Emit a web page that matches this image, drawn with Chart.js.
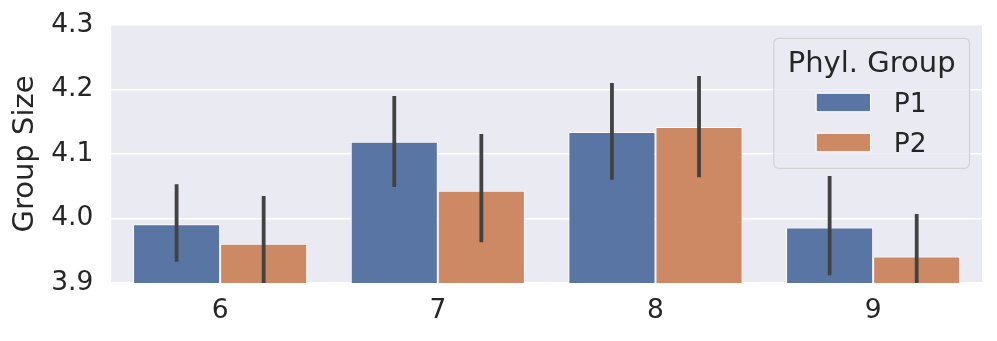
<!DOCTYPE html>
<html>
<head>
<meta charset="utf-8">
<script src="https://cdn.jsdelivr.net/npm/chart.js@4.4.1/dist/chart.umd.min.js"></script>
<style>
  html, body { margin: 0; padding: 0; background: #ffffff; }
  #wrap { width: 997px; height: 341px; position: relative; }
</style>
</head>
<body>
<div id="wrap"><canvas id="c"></canvas></div>
<script>
const categories = ['6', '7', '8', '9'];
const seriesNames = ['P1', 'P2'];
const p1Values = [3.991, 4.119, 4.134, 3.986];
const p2Values = [3.961, 4.043, 4.142, 3.941];
const p1Low = [3.933, 4.049, 4.060, 3.912];
const p1High = [4.053, 4.190, 4.210, 4.066];
const p2Low = [3.887, 3.963, 4.064, 3.875];
const p2High = [4.035, 4.131, 4.221, 4.007];
const yTicks = [3.9, 4.0, 4.1, 4.2, 4.3];
const legendTitle = 'Phyl. Group';
const yLabel = 'Group Size';

const colors = ['#5975a4', '#cc8963'];
const textColor = '#262626';
const FONT = 'DejaVu Sans';

const bgPlugin = {
  id: 'bg',
  beforeDraw(chart) {
    const {ctx, chartArea: a} = chart;
    ctx.save();
    ctx.fillStyle = '#eaeaf2';
    ctx.fillRect(a.left, a.top, a.right - a.left, a.bottom - a.top);
    ctx.restore();
  }
};

const errPlugin = {
  id: 'errbars',
  afterDatasetsDraw(chart) {
    const {ctx, chartArea: a} = chart;
    const ys = chart.scales.y;
    const lows = [p1Low, p2Low], highs = [p1High, p2High];
    ctx.save();
    ctx.beginPath();
    ctx.rect(a.left, a.top, a.right - a.left, a.bottom - a.top);
    ctx.clip();
    ctx.strokeStyle = '#424242';
    ctx.lineWidth = 3.8;
    ctx.lineCap = 'butt';
    chart.data.datasets.forEach((ds, di) => {
      const meta = chart.getDatasetMeta(di);
      meta.data.forEach((bar, i) => {
        ctx.beginPath();
        ctx.moveTo(bar.x, ys.getPixelForValue(lows[di][i]));
        ctx.lineTo(bar.x, ys.getPixelForValue(highs[di][i]));
        ctx.stroke();
      });
    });
    ctx.restore();
  }
};

const legendPlugin = {
  id: 'customLegend',
  afterDraw(chart) {
    const {ctx, chartArea: a} = chart;
    const boxRight = a.right - 12.5;
    const boxTop = a.top + 13.3;
    const boxW = 195.7, boxH = 130;
    const boxLeft = boxRight - boxW;
    ctx.save();
    ctx.beginPath();
    ctx.roundRect(boxLeft, boxTop, boxW, boxH, 5);
    ctx.fillStyle = 'rgba(234,234,242,0.8)';
    ctx.fill();
    ctx.lineWidth = 1.2;
    ctx.strokeStyle = 'rgba(204,204,204,0.8)';
    ctx.stroke();
    ctx.fillStyle = textColor;
    ctx.textBaseline = 'alphabetic';
    ctx.textAlign = 'center';
    ctx.font = '29px "' + FONT + '"';
    ctx.fillText(legendTitle, boxLeft + boxW / 2, boxTop + 33.4);
    ctx.font = '26.5px "' + FONT + '"';
    ctx.textAlign = 'left';
    seriesNames.forEach((n, i) => {
      const sy = boxTop + 55 + i * 40;
      ctx.fillStyle = colors[i];
      ctx.fillRect(boxLeft + 42.4, sy, 54.3, 18.4);
      ctx.strokeStyle = '#ffffff';
      ctx.lineWidth = 1;
      ctx.strokeRect(boxLeft + 42.4, sy, 54.3, 18.4);
      ctx.fillStyle = textColor;
      ctx.fillText(n, boxLeft + 120, sy + 18.4);
    });
    ctx.restore();
  }
};

new Chart(document.getElementById('c'), {
  type: 'bar',
  data: {
    labels: categories,
    datasets: [
      { label: seriesNames[0], data: p1Values, backgroundColor: colors[0], borderColor: '#ffffff', borderWidth: 1 },
      { label: seriesNames[1], data: p2Values, backgroundColor: colors[1], borderColor: '#ffffff', borderWidth: 1 }
    ]
  },
  options: {
    responsive: true,
    maintainAspectRatio: false,
    animation: false,
    devicePixelRatio: 1,
    layout: { padding: { top: 25, right: 15, left: 0, bottom: 0 } },
    plugins: { legend: { display: false }, tooltip: { enabled: false } },
    datasets: { bar: { barPercentage: 1.0, categoryPercentage: 0.8 } },
    scales: {
      x: {
        grid: { display: false, drawTicks: false },
        border: { display: false },
        ticks: { color: textColor, font: { family: FONT, size: 26.5 }, padding: 12 },
        afterFit(s) { s.height = 58; s.paddingLeft = 0; s.paddingRight = 0; }
      },
      y: {
        min: 3.9, max: 4.3,
        afterBuildTicks(s) { s.ticks = yTicks.map(v => ({ value: v })); },
        grid: { color: '#ffffff', lineWidth: 1.6, drawTicks: false },
        border: { display: false },
        ticks: {
          color: textColor, font: { family: FONT, size: 26.5 }, padding: 18,
          callback: v => Number(v).toFixed(1)
        },
        title: {
          display: true, text: yLabel, color: textColor,
          font: { family: FONT, size: 29 }, padding: { top: 8, bottom: 0 }
        },
        afterFit(s) { s.width = 111.3; s.paddingTop = 0; s.paddingBottom = 0; }
      }
    }
  },
  plugins: [bgPlugin, errPlugin, legendPlugin]
});
</script>
</body>
</html>
